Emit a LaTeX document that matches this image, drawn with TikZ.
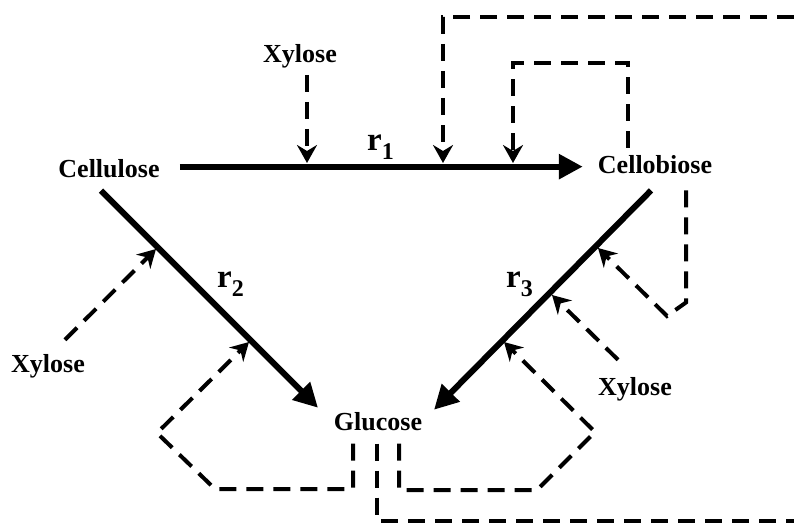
\documentclass[tikz,border=0pt]{standalone}
\usepackage{fontspec}
\setmainfont{Liberation Serif}
\usetikzlibrary{arrows.meta}

\newcommand{\rate}[1]{{\fontsize{33}{36}\selectfont r}\raisebox{-9pt}{\fontsize{24}{26}\selectfont #1}}

\begin{document}
\begin{tikzpicture}[x=1pt,y=-1pt,
    lbl/.style={font=\bfseries\fontsize{26}{30}\selectfont,inner sep=0pt,anchor=base},
    main/.style={line width=6pt,-{Triangle[length=24pt,width=24pt]}},
    loopline/.style={line width=4pt,dash pattern=on 17pt off 10pt},
    feed/.style={loopline,-{Stealth[length=18pt,width=20pt,inset=6pt]}}]
    \useasboundingbox (0,0) rectangle (794,524);

    \node [lbl] (cell)   at (109,177) {Cellulose};
    \node [lbl] (cellob) at (655,173) {Cellobiose};
    \node [lbl] (gluc)   at (378,430) {Glucose};
    \node [lbl] (xyla)   at (300,63)  {Xylose};
    \node [lbl] (xylb)   at (48,372)  {Xylose};
    \node [lbl] (xylc)   at (635,395) {Xylose};
    \node [lbl,anchor=base west] (ra) at (367,150) {\rate{1}};
    \node [lbl,anchor=base west] (rb) at (217,287) {\rate{2}};
    \node [lbl,anchor=base west] (rc) at (506,287) {\rate{3}};

    % points where the dashed lines meet the reactions
    \coordinate (ta) at (307,163);
    \coordinate (tb) at (443,163);
    \coordinate (tc) at (513,163);
    \coordinate (td) at (156,249);
    \coordinate (te) at (249,342);
    \coordinate (tf) at (598,248);
    \coordinate (tg) at (552,295);
    \coordinate (th) at (504,342);

    % reactions
    \coordinate (ra0) at ([shift={(20,-1.5)}]cell.east);
    \draw [main,shorten >=15pt] (ra0) -- (ra0 -| cellob.west);
    \draw [main] ([shift={(-8,13)}]cell.south) -- ([shift={(-60,-4)}]gluc.north);
    \draw [main] ([shift={(-4,17)}]cellob.south) -- ([shift={(56,-2)}]gluc.north);

    % xylose inhibition
    \draw [feed] ([shift={(7,6)}]xyla.south) -- (ta);
    \draw [feed] ([shift={(17,-14)}]xylb.north) -- (td);
    \draw [feed] ([shift={(-17,-17)}]xylc.north) -- (tg);

    % glucose inhibition
    \draw [loopline] ([shift={(-1,13)}]gluc.south) |- (794,520.5);
    \draw [feed] (794,17) -| (tb);
    \draw [feed] ([shift={(-25,13)}]gluc.south) |- (215,489) -- (157,433) -- (te);
    \draw [feed] ([shift={(21,13)}]gluc.south) |- (537,490) -- (595,432) -- (th);

    % cellobiose inhibition
    \draw [feed] ([shift={(-27,-7)}]cellob.north) |- (513,63) -- (tc);
    \draw [feed] ([shift={(31,17)}]cellob.south) -- ++(0,112) -- (667,316) -- (tf);
\end{tikzpicture}
\end{document}
